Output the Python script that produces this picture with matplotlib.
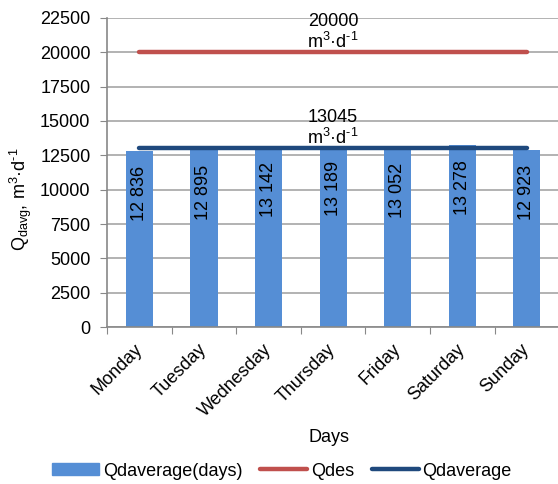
import matplotlib
matplotlib.use("Agg")
import matplotlib.pyplot as plt
from matplotlib.patches import Patch
from matplotlib.lines import Line2D

plt.rcParams['font.family'] = ['Liberation Sans', 'DejaVu Sans']
plt.rcParams['font.size'] = 13
plt.rcParams['mathtext.fontset'] = 'custom'
plt.rcParams['mathtext.rm'] = 'Liberation Sans'
plt.rcParams['mathtext.it'] = 'Liberation Sans:italic'
plt.rcParams['mathtext.default'] = 'regular'

# Среднесуточный расход по дням недели
days = ["Monday", "Tuesday", "Wednesday", "Thursday", "Friday", "Saturday", "Sunday"]
q_days = [12836, 12895, 13142, 13189, 13052, 13278, 12923]
q_des = 20000
q_average = 13045

bar_color = "#558ED5"
des_color = "#C0504D"
avg_color = "#1F497D"
grid_color = "#A6A6A6"

unit = "m$^3$·d$^{\u20101}$"

fig = plt.figure(figsize=(5.58, 4.84), dpi=100)
ax = fig.add_axes([0.192, 0.324, 0.81, 0.639])

x = list(range(len(days)))
ax.bar(x, q_days, width=0.42, color=bar_color, zorder=2)
ax.plot([x[0], x[-1]], [q_des, q_des], color=des_color, lw=3.2,
        solid_capstyle='round', zorder=3)
ax.plot([x[0], x[-1]], [q_average, q_average], color=avg_color, lw=3.2,
        solid_capstyle='round', zorder=3)

# подписи значений внутри столбцов
for xi, v in zip(x, q_days):
    ax.annotate(f"{v:,}".replace(",", " "), xy=(xi, v), xytext=(0, -11),
                textcoords='offset points', rotation=90,
                ha='center', va='top', zorder=4)

# подписи линий
for val in (q_des, q_average):
    ax.annotate(str(val), xy=(3, val), xytext=(0, 22), textcoords='offset points',
                ha='center', va='center', zorder=4)
    ax.annotate(unit, xy=(3, val), xytext=(0, 7.5),
                textcoords='offset points', ha='center', va='center', zorder=4)

ax.set_xlim(-0.5, len(days) - 0.5)
ax.set_ylim(0, 22500)
ax.set_yticks(range(0, 22501, 2500))
ax.set_xticks([i - 0.5 for i in range(len(days) + 1)])
ax.set_xticklabels([])
ax.set_xticks(x, minor=True)
ax.set_xticklabels(days, minor=True, rotation=45, ha='right', va='center',
                   rotation_mode='anchor')
ax.tick_params(axis='x', which='minor', length=0, pad=14)
ax.tick_params(axis='x', which='major', length=5, color='#888888')
ax.tick_params(axis='y', length=5, color='#888888', pad=7)

ax.grid(axis='y', color=grid_color, lw=1.2, zorder=0)
ax.set_axisbelow(True)
for side in ('top', 'right'):
    ax.spines[side].set_visible(False)
for side in ('left', 'bottom'):
    ax.spines[side].set_color('#888888')
    ax.spines[side].set_linewidth(1.2)

ax.set_ylabel("Q$_{davg}$, " + unit)
ax.yaxis.set_label_coords(-0.192, 0.414)
ax.yaxis.label.set_va('center')
ax.set_xlabel("Days")
ax.xaxis.set_label_coords(0.49, -0.356)
ax.xaxis.label.set_va('center')

handles = [
    Patch(color=bar_color),
    Line2D([], [], color=des_color, lw=3.2, solid_capstyle='round'),
    Line2D([], [], color=avg_color, lw=3.2, solid_capstyle='round'),
]
fig.legend(handles, ["Qdaverage(days)", "Qdes", "Qdaverage"], loc='center',
           bbox_to_anchor=(282 / 558, 1 - 471 / 484), ncol=3, frameon=False,
           handlelength=2.6, handleheight=0.6, handletextpad=0.2,
           columnspacing=1.0)

fig.savefig("out.png", dpi=100)
